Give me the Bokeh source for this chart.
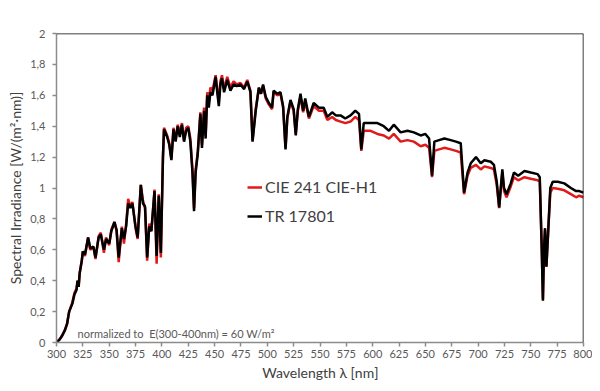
from bokeh.plotting import figure
from bokeh.models import Range1d, FixedTicker, Span, Label, Legend, LegendItem
from bokeh.embed import file_html
from bokeh.resources import INLINE

wavelength = [300, 303, 305, 308, 310, 312, 315, 317, 319, 320, 321, 322, 324, 325, 327, 330, 332, 335, 337, 340,
              342, 345, 347, 350, 352, 355, 357, 359, 362, 364, 366, 368, 370, 372, 375, 377, 380, 382, 384, 386,
              388, 390, 393, 395, 397, 399, 401, 402, 405, 407, 409, 411, 413, 415, 417, 419, 421, 423, 425, 427,
              429, 430.5, 432, 434, 436.5, 438, 440, 441.5, 443, 444.5, 446, 448, 451, 452.5, 454, 455.5, 457, 459, 462, 465,
              468, 471, 474.5, 478, 481, 484, 486, 489, 492, 494, 496, 498.5, 501.5, 504.5, 506, 509.5, 512.5, 515, 517.3, 519,
              522, 525, 527, 529, 531.5, 534, 536, 539.5, 544, 549, 553.5, 557, 561.5, 565, 569.5, 574, 579, 583.5, 587, 589.2,
              591.5, 595, 598, 604.5, 610.5, 615.5, 620, 626.5, 633, 639, 645.5, 650, 653.5, 656.3, 658.5, 663, 668, 674, 679, 683.5,
              686.7, 690, 693, 698, 702.5, 706, 712, 715, 717.7, 720, 721.5, 723, 724.6, 727, 729.3, 731, 734, 738, 744, 750,
              756.5, 758.5, 760.4, 761.5, 762.5, 763.5, 764.8, 766.7, 768.5, 770.8, 775.6, 781.8, 788, 793, 796, 800]

tr_17801 = [0.00, 0.02, 0.04, 0.08, 0.12, 0.20, 0.25, 0.31, 0.34, 0.40, 0.36, 0.45, 0.53, 0.59, 0.57, 0.68, 0.61, 0.62, 0.55, 0.68,
            0.70, 0.60, 0.67, 0.64, 0.72, 0.78, 0.73, 0.55, 0.74, 0.67, 0.75, 0.90, 0.87, 0.90, 0.75, 0.68, 1.02, 0.90, 0.88, 0.55,
            0.75, 0.72, 0.98, 0.56, 0.95, 0.58, 1.20, 1.38, 1.33, 1.28, 1.18, 1.38, 1.30, 1.40, 1.33, 1.41, 1.30, 1.37, 1.39, 1.30,
            1.10, 0.85, 1.10, 1.22, 1.48, 1.26, 1.50, 1.32, 1.60, 1.52, 1.62, 1.60, 1.72, 1.62, 1.53, 1.67, 1.71, 1.62, 1.70, 1.63,
            1.67, 1.66, 1.67, 1.64, 1.69, 1.62, 1.30, 1.50, 1.65, 1.61, 1.67, 1.59, 1.55, 1.52, 1.63, 1.61, 1.62, 1.53, 1.25, 1.46,
            1.57, 1.51, 1.34, 1.51, 1.61, 1.50, 1.58, 1.46, 1.55, 1.52, 1.52, 1.46, 1.49, 1.47, 1.47, 1.45, 1.47, 1.50, 1.48, 1.25,
            1.42, 1.42, 1.42, 1.42, 1.40, 1.37, 1.41, 1.36, 1.37, 1.36, 1.34, 1.35, 1.32, 1.08, 1.30, 1.31, 1.32, 1.31, 1.30, 1.29,
            0.97, 1.10, 1.16, 1.20, 1.16, 1.18, 1.17, 1.15, 1.04, 0.875, 1.00, 1.12, 1.00, 0.96, 1.00, 1.03, 1.10, 1.08, 1.11, 1.10,
            1.09, 1.07, 0.60, 0.27, 0.60, 0.74, 0.49, 0.75, 1.00, 1.04, 1.04, 1.03, 1.00, 0.98, 0.98, 0.97]

cie_241_h1 = [0.00, 0.02, 0.04, 0.08, 0.12, 0.20, 0.26, 0.32, 0.35, 0.40, 0.36, 0.45, 0.53, 0.59, 0.56, 0.68, 0.60, 0.62, 0.54, 0.69,
              0.71, 0.58, 0.68, 0.63, 0.73, 0.78, 0.72, 0.52, 0.75, 0.64, 0.76, 0.93, 0.88, 0.91, 0.74, 0.67, 1.02, 0.92, 0.87, 0.53,
              0.77, 0.72, 0.99, 0.51, 0.96, 0.55, 1.20, 1.39, 1.34, 1.29, 1.19, 1.39, 1.31, 1.41, 1.35, 1.42, 1.31, 1.39, 1.40, 1.32,
              1.12, 0.87, 1.12, 1.23, 1.49, 1.28, 1.52, 1.34, 1.62, 1.55, 1.65, 1.63, 1.73, 1.64, 1.56, 1.69, 1.73, 1.64, 1.72, 1.65,
              1.69, 1.67, 1.68, 1.65, 1.70, 1.63, 1.31, 1.51, 1.65, 1.61, 1.66, 1.58, 1.54, 1.51, 1.62, 1.60, 1.61, 1.52, 1.26, 1.45,
              1.56, 1.50, 1.35, 1.50, 1.59, 1.49, 1.56, 1.45, 1.53, 1.50, 1.50, 1.44, 1.46, 1.44, 1.43, 1.42, 1.43, 1.46, 1.44, 1.24,
              1.37, 1.37, 1.37, 1.35, 1.34, 1.32, 1.35, 1.30, 1.31, 1.30, 1.27, 1.28, 1.26, 1.07, 1.24, 1.25, 1.26, 1.25, 1.24, 1.23,
              0.96, 1.08, 1.13, 1.15, 1.12, 1.14, 1.13, 1.12, 1.02, 0.87, 0.99, 1.10, 0.98, 0.94, 0.98, 1.01, 1.07, 1.05, 1.07, 1.06,
              1.05, 1.04, 0.60, 0.28, 0.60, 0.73, 0.49, 0.74, 0.97, 1.00, 0.995, 0.985, 0.96, 0.94, 0.95, 0.94]

x_ticks = [300, 325, 350, 375, 400, 425, 450, 475, 500, 525, 550, 575, 600, 625, 650, 675, 700, 725, 750, 775, 800]
y_ticks = [0, 0.2, 0.4, 0.6, 0.8, 1.0, 1.2, 1.4, 1.6, 1.8, 2.0]
y_tick_labels = ["0", "0,2", "0,4", "0,6", "0,8", "1", "1,2", "1,4", "1,6", "1,8", "2"]

FONT = "Lato"
TICK_COLOR = "#595959"
AXIS_LINE = "#8c8c8c"

p = figure(frame_width=527, frame_height=309, output_backend="svg", toolbar_location=None,
           x_range=Range1d(300, 800), y_range=Range1d(0, 2),
           min_border_left=56, min_border_right=9, min_border_top=33, min_border_bottom=41)
p.outline_line_color = None
p.xgrid.visible = False
p.ygrid.visible = False
p.background_fill_color = "white"
p.border_fill_color = "white"

red = p.line(wavelength, cie_241_h1, line_color="#e01a1a", line_width=2.5)
black = p.line(wavelength, tr_17801, line_color="black", line_width=2.5)

# frame top and right (black)
p.add_layout(Span(location=2, dimension="width", line_color="black", line_width=1.5))
p.add_layout(Span(location=800, dimension="height", line_color="black", line_width=1.5))

for ax in (p.xaxis[0], p.yaxis[0]):
    ax.axis_line_color = AXIS_LINE
    ax.axis_line_width = 1.5
    ax.major_tick_line_color = AXIS_LINE
    ax.major_tick_line_width = 1.5
    ax.major_tick_out = 4
    ax.major_tick_in = 0
    ax.minor_tick_line_color = None
    ax.major_label_text_font = FONT
    ax.major_label_text_color = TICK_COLOR
    ax.major_label_text_font_size = "11px"
    ax.axis_label_text_font = FONT
    ax.axis_label_text_color = "#404040"
    ax.axis_label_text_font_size = "14px"
    ax.axis_label_text_font_style = "normal"

p.xaxis.ticker = FixedTicker(ticks=x_ticks)
p.yaxis.ticker = FixedTicker(ticks=y_ticks)
p.yaxis.major_label_overrides = {v: s for v, s in zip(y_ticks, y_tick_labels)}
p.xaxis.axis_label = "Wavelength λ [nm]"
p.yaxis.axis_label = "Spectral Irradiance [W/(m²·nm)]"
p.xaxis.major_label_standoff = 3
p.yaxis.major_label_standoff = 7
p.xaxis.axis_label_standoff = 3
p.yaxis.axis_label_standoff = 3

legend = Legend(items=[LegendItem(label="CIE 241 CIE-H1", renderers=[red]),
                       LegendItem(label="TR 17801", renderers=[black])],
                location=(191, 117), border_line_color=None, background_fill_alpha=0,
                label_text_font=FONT, label_text_font_size="16px", label_text_color="#404040",
                glyph_width=15, glyph_height=14, spacing=10, padding=0, label_standoff=3)
p.add_layout(legend)

note = Label(x=320, y=0.015, text="normalized to\u00a0 E(300-400nm) = 60 W/m²",
             text_font=FONT, text_font_size="11px", text_color=TICK_COLOR, text_baseline="bottom")
p.add_layout(note)

open("out.html", "w").write(file_html(p, INLINE))
